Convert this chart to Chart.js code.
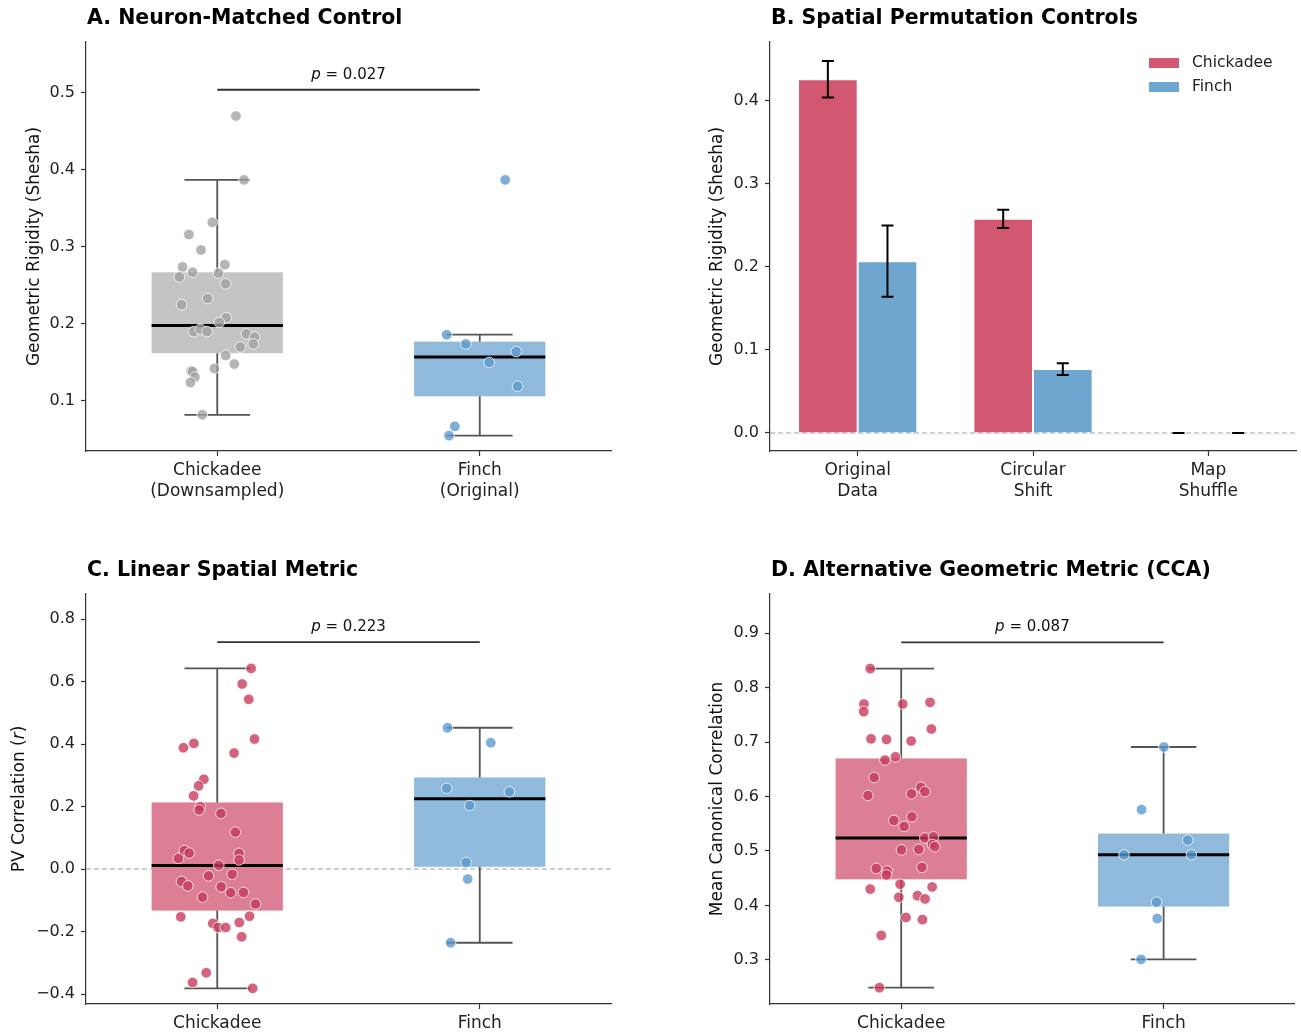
<!DOCTYPE html>
<html><head><meta charset="utf-8">
<script src="https://cdn.jsdelivr.net/npm/chart.js@4.4.1/dist/chart.umd.min.js"></script>
<style>
html,body{margin:0;padding:0;background:#fff;}
#wrap{position:relative;width:1301px;height:1036px;overflow:hidden;}
canvas{position:absolute;}
</style></head><body>
<div id="wrap">
<canvas id="cA" width="650" height="520" style="left:0px;top:0px"></canvas>
<canvas id="cB" width="651" height="520" style="left:650px;top:0px"></canvas>
<canvas id="cC" width="650" height="496" style="left:0px;top:540px"></canvas>
<canvas id="cD" width="651" height="496" style="left:650px;top:540px"></canvas>
</div>
<script>
// ---------- Panel A: Neuron-Matched Control ----------
const aCategories = [['Chickadee', '(Downsampled)'], ['Finch', '(Original)']];
const aYTicks = [0.1, 0.2, 0.3, 0.4, 0.5];
const aChickVals = [0.470,0.387,0.332,0.316,0.296,0.274,0.277,0.261,0.267,0.266,0.252,0.233,0.225,0.208,0.202,0.190,0.193,0.190,0.187,0.183,0.174,0.170,0.159,0.148,0.142,0.139,0.138,0.131,0.124,0.082];
const aChickJitter = [0.071,0.102,-0.019,-0.108,-0.062,-0.132,0.029,-0.144,-0.094,0.005,0.032,-0.037,-0.136,0.034,0.008,-0.090,-0.064,-0.039,0.111,0.142,0.137,0.088,0.032,0.065,-0.011,-0.099,-0.094,-0.085,-0.102,-0.057];
const aChickBox = [0.082, 0.162, 0.198, 0.267, 0.387]; // whiskerLow, Q1, median, Q3, whiskerHigh
const aFinchVals = [0.387,0.186,0.174,0.164,0.150,0.119,0.067,0.055];
const aFinchJitter = [0.097,-0.126,-0.053,0.139,0.036,0.144,-0.095,-0.117];
const aFinchBox = [0.055, 0.106, 0.157, 0.177, 0.186];
const aPText = '0.027';
const aPLevel = 0.504;

// ---------- Panel B: Spatial Permutation Controls ----------
const bCategories = [['Original', 'Data'], ['Circular', 'Shift'], ['Map', 'Shuffle']];
const bYTicks = [0.0, 0.1, 0.2, 0.3, 0.4];
const bChickadee = [0.426, 0.258, 0.0];
const bChickadeeErr = [0.022, 0.011, 0.0];
const bFinch = [0.207, 0.077, 0.0];
const bFinchErr = [0.043, 0.007, 0.0];

// ---------- Panel C: Linear Spatial Metric ----------
const cCategories = ['Chickadee', 'Finch'];
const cYTicks = [-0.4, -0.2, 0.0, 0.2, 0.4, 0.6, 0.8];
const cChickVals = [0.642,0.592,0.543,0.388,0.402,0.416,0.371,0.287,0.266,0.234,0.199,0.189,0.178,0.118,0.059,0.051,0.034,0.050,0.029,0.012,-0.022,-0.017,-0.040,-0.054,-0.057,-0.076,-0.075,-0.090,-0.112,-0.153,-0.151,-0.174,-0.187,-0.187,-0.171,-0.217,-0.332,-0.363,-0.382];
const cChickJitter = [0.129,0.095,0.120,-0.129,-0.089,0.142,0.064,-0.051,-0.071,-0.090,-0.065,-0.069,0.014,0.069,-0.125,-0.107,-0.148,0.083,0.083,0.006,-0.033,0.057,-0.136,-0.112,0.015,0.051,0.100,-0.056,0.146,-0.139,0.123,-0.017,0.003,0.032,0.084,0.093,-0.042,-0.094,0.135];
const cChickBox = [-0.382, -0.133, 0.011, 0.213, 0.642];
const cFinchVals = [0.452,0.404,0.258,0.247,0.203,0.021,-0.032,-0.236];
const cFinchJitter = [-0.123,0.042,-0.126,0.113,-0.038,-0.052,-0.046,-0.111];
const cFinchBox = [-0.236, 0.007, 0.225, 0.293, 0.452];
const cPText = '0.223';
const cPLevel = 0.726;

// ---------- Panel D: Alternative Geometric Metric (CCA) ----------
const dCategories = ['Chickadee', 'Finch'];
const dYTicks = [0.3, 0.4, 0.5, 0.6, 0.7, 0.8, 0.9];
const dChickVals = [0.835,0.770,0.756,0.770,0.773,0.724,0.706,0.705,0.702,0.667,0.673,0.635,0.602,0.617,0.609,0.605,0.563,0.556,0.545,0.524,0.526,0.512,0.508,0.502,0.503,0.468,0.463,0.456,0.470,0.430,0.439,0.434,0.415,0.418,0.412,0.378,0.374,0.345,0.249];
const dChickJitter = [-0.118,-0.142,-0.143,0.006,0.110,0.115,-0.115,-0.056,0.038,-0.062,-0.022,-0.103,-0.127,0.075,0.090,0.039,0.041,-0.028,0.011,0.090,0.123,0.119,0.128,0.001,0.067,-0.095,-0.053,-0.056,0.079,-0.118,-0.004,0.118,-0.009,0.062,0.091,0.018,0.081,-0.076,-0.083];
const dChickBox = [0.249, 0.448, 0.524, 0.670, 0.835];
const dFinchVals = [0.691,0.576,0.520,0.493,0.493,0.406,0.376,0.301];
const dFinchJitter = [0.001,-0.084,0.092,-0.151,0.106,-0.027,-0.024,-0.086];
const dFinchBox = [0.301, 0.398, 0.493, 0.532, 0.691];
const dPText = '0.087';
const dPLevel = 0.883;

// ---------- styling ----------
const FONT = "'DejaVu Sans', 'Liberation Sans', sans-serif";
Chart.defaults.font.family = FONT;
Chart.defaults.color = '#222';
const RED_BAR = '#d25770', BLUE_BAR = '#6fa6cf';
const RED_BOX = '#dc7f95', BLUE_BOX = '#8fbadc', GREY_BOX = '#c4c4c4';
const RED_PT = 'rgba(200,55,90,0.78)', BLUE_PT = 'rgba(90,152,205,0.78)', GREY_PT = 'rgba(160,160,160,0.78)';
const AXIS = '#333';
const TITLE_SIZE = 20.5, YTICK_SIZE = 16, XTICK_SIZE = 17, YLAB_SIZE = 17;

function fmtTick(v) { return (v < 0 ? '\u2212' : '') + Math.abs(v).toFixed(1); }

function drawSegs(ctx, segs, cx, cy, size, rotate) {
  ctx.save();
  ctx.translate(cx, cy);
  if (rotate) ctx.rotate(-Math.PI / 2);
  let total = 0;
  const ws = segs.map(s => { ctx.font = (s.i ? 'italic ' : '') + size + 'px ' + FONT; const w = ctx.measureText(s.t).width; total += w; return w; });
  let x = -total / 2;
  ctx.textAlign = 'left';
  ctx.textBaseline = rotate ? 'middle' : 'alphabetic';
  ctx.fillStyle = '#111';
  segs.forEach((s, k) => { ctx.font = (s.i ? 'italic ' : '') + size + 'px ' + FONT; ctx.fillText(s.t, x, 0); x += ws[k]; });
  ctx.restore();
}

function drawTitle(chart, text) {
  const ctx = chart.ctx, a = chart.chartArea;
  ctx.save();
  ctx.font = 'bold ' + TITLE_SIZE + 'px ' + FONT;
  ctx.fillStyle = '#000';
  ctx.textAlign = 'left';
  ctx.textBaseline = 'alphabetic';
  ctx.fillText(text, a.left + 1, a.top - 18);
  ctx.restore();
}

function yScaleOpts(min, max, ticksArr, width) {
  return {
    type: 'linear', min: min, max: max,
    afterBuildTicks: s => { s.ticks = ticksArr.map(v => ({ value: v })); },
    afterFit: s => { s.width = width; },
    ticks: { autoSkip: false, padding: 6, font: { size: YTICK_SIZE }, color: '#222', callback: v => fmtTick(v) },
    grid: { drawOnChartArea: false, drawTicks: true, tickLength: 5, tickColor: AXIS, tickWidth: 1.2 },
    border: { color: AXIS, width: 1.2 }
  };
}

function boxPanel(id, P) {
  const deco = {
    id: 'deco_' + id,
    beforeDatasetsDraw(chart) {
      const ctx = chart.ctx, a = chart.chartArea, xs = chart.scales.x, ys = chart.scales.y;
      ctx.save();
      if (P.zero) {
        const y0 = ys.getPixelForValue(0);
        ctx.strokeStyle = '#a0a0a0'; ctx.lineWidth = 1.2; ctx.setLineDash([5, 3]);
        ctx.beginPath(); ctx.moveTo(a.left, y0); ctx.lineTo(a.right, y0); ctx.stroke();
        ctx.setLineDash([]);
      }
      P.groups.forEach((g, gi) => {
        const [wl, q1, md, q3, wh] = g.box;
        const Y = v => ys.getPixelForValue(v);
        const xc = xs.getPixelForValue(gi), xl = xs.getPixelForValue(gi - 0.25), xr = xs.getPixelForValue(gi + 0.25);
        const cl = xs.getPixelForValue(gi - 0.125), cr = xs.getPixelForValue(gi + 0.125);
        ctx.fillStyle = g.boxColor;
        ctx.fillRect(xl, Y(q3), xr - xl, Y(q1) - Y(q3));
        ctx.strokeStyle = '#555'; ctx.lineWidth = 1.8;
        ctx.beginPath();
        ctx.moveTo(xc, Y(q3)); ctx.lineTo(xc, Y(wh));
        ctx.moveTo(cl, Y(wh)); ctx.lineTo(cr, Y(wh));
        ctx.moveTo(xc, Y(q1)); ctx.lineTo(xc, Y(wl));
        ctx.moveTo(cl, Y(wl)); ctx.lineTo(cr, Y(wl));
        ctx.stroke();
        ctx.strokeStyle = '#000'; ctx.lineWidth = 3;
        ctx.beginPath(); ctx.moveTo(xl, Y(md)); ctx.lineTo(xr, Y(md)); ctx.stroke();
      });
      ctx.restore();
    },
    afterDatasetsDraw(chart) {
      const ctx = chart.ctx, xs = chart.scales.x, ys = chart.scales.y;
      const x0 = xs.getPixelForValue(0), x1 = xs.getPixelForValue(1), yl = ys.getPixelForValue(P.pLevel);
      ctx.save();
      ctx.strokeStyle = '#333'; ctx.lineWidth = 1.8;
      ctx.beginPath(); ctx.moveTo(x0, yl); ctx.lineTo(x1, yl); ctx.stroke();
      ctx.restore();
      drawSegs(ctx, [{ t: 'p', i: true }, { t: ' = ' + P.pText, i: false }], (x0 + x1) / 2, yl - 11, 15, false);
    },
    afterDraw(chart) {
      const a = chart.chartArea;
      drawTitle(chart, P.title);
      drawSegs(chart.ctx, P.yLabel, P.yLabX, (a.top + a.bottom) / 2, YLAB_SIZE, true);
    }
  };
  return new Chart(document.getElementById(id), {
    type: 'scatter',
    data: {
      datasets: P.groups.map((g, gi) => ({
        label: g.name,
        data: g.vals.map((v, k) => ({ x: gi + g.jit[k], y: v })),
        pointRadius: 5.3, pointHoverRadius: 5.3,
        pointBackgroundColor: g.ptColor,
        pointBorderColor: 'rgba(255,255,255,0.85)', pointBorderWidth: 0.9
      }))
    },
    options: {
      responsive: false, animation: false, events: [],
      layout: { padding: P.pad },
      plugins: { legend: { display: false }, tooltip: { enabled: false }, title: { display: false } },
      scales: {
        x: {
          type: 'linear', min: -0.5, max: 1.5,
          afterBuildTicks: s => { s.ticks = P.cats.map((_, i) => ({ value: i })); },
          afterFit: s => { s.height = P.xH; },
          ticks: { autoSkip: false, maxRotation: 0, padding: 5, font: { size: XTICK_SIZE, lineHeight: 1.18 }, color: '#222',
                   callback: v => P.cats[Math.round(v)] },
          grid: { drawOnChartArea: false, drawTicks: true, tickLength: 5, tickColor: AXIS, tickWidth: 1.2 },
          border: { color: AXIS, width: 1.2 }
        },
        y: yScaleOpts(P.yMin, P.yMax, P.yTicks, P.yW)
      }
    },
    plugins: [deco]
  });
}

// Panel A
boxPanel('cA', {
  title: 'A. Neuron-Matched Control',
  yLabel: [{ t: 'Geometric Rigidity (Shesha)', i: false }], yLabX: 35,
  cats: aCategories, yTicks: aYTicks, yMin: 0.035, yMax: 0.566, yW: 86, xH: 60,
  pad: { left: 0, right: 39, top: 42, bottom: 9 },
  pText: aPText, pLevel: aPLevel, zero: false,
  groups: [
    { name: 'Chickadee', vals: aChickVals, jit: aChickJitter, box: aChickBox, boxColor: GREY_BOX, ptColor: GREY_PT },
    { name: 'Finch', vals: aFinchVals, jit: aFinchJitter, box: aFinchBox, boxColor: BLUE_BOX, ptColor: BLUE_PT }
  ]
});

// Panel C
boxPanel('cC', {
  title: 'C. Linear Spatial Metric',
  yLabel: [{ t: 'PV Correlation (', i: false }, { t: 'r', i: true }, { t: ')', i: false }], yLabX: 20,
  cats: cCategories, yTicks: cYTicks, yMin: -0.432, yMax: 0.88, yW: 86, xH: 30,
  pad: { left: 0, right: 39, top: 54, bottom: 2 },
  pText: cPText, pLevel: cPLevel, zero: true,
  groups: [
    { name: 'Chickadee', vals: cChickVals, jit: cChickJitter, box: cChickBox, boxColor: RED_BOX, ptColor: RED_PT },
    { name: 'Finch', vals: cFinchVals, jit: cFinchJitter, box: cFinchBox, boxColor: BLUE_BOX, ptColor: BLUE_PT }
  ]
});

// Panel D
boxPanel('cD', {
  title: 'D. Alternative Geometric Metric (CCA)',
  yLabel: [{ t: 'Mean Canonical Correlation', i: false }], yLabX: 68,
  cats: dCategories, yTicks: dYTicks, yMin: 0.219, yMax: 0.972, yW: 120, xH: 30,
  pad: { left: 0, right: 5, top: 54, bottom: 2 },
  pText: dPText, pLevel: dPLevel, zero: false,
  groups: [
    { name: 'Chickadee', vals: dChickVals, jit: dChickJitter, box: dChickBox, boxColor: RED_BOX, ptColor: RED_PT },
    { name: 'Finch', vals: dFinchVals, jit: dFinchJitter, box: dFinchBox, boxColor: BLUE_BOX, ptColor: BLUE_PT }
  ]
});

// Panel B
const bErrs = [bChickadeeErr, bFinchErr];
const bDeco = {
  id: 'deco_B',
  beforeDatasetsDraw(chart) {
    const ctx = chart.ctx, a = chart.chartArea, ys = chart.scales.y;
    const y0 = ys.getPixelForValue(0);
    ctx.save();
    ctx.strokeStyle = '#a0a0a0'; ctx.lineWidth = 1.2; ctx.setLineDash([5, 3]);
    ctx.beginPath(); ctx.moveTo(a.left, y0); ctx.lineTo(a.right, y0); ctx.stroke();
    ctx.restore();
  },
  afterDatasetsDraw(chart) {
    const ctx = chart.ctx, ys = chart.scales.y;
    ctx.save();
    ctx.strokeStyle = '#000'; ctx.lineWidth = 2;
    bErrs.forEach((errs, di) => {
      const meta = chart.getDatasetMeta(di);
      meta.data.forEach((bar, j) => {
        const v = chart.data.datasets[di].data[j];
        const yt = ys.getPixelForValue(v + errs[j]), yb = ys.getPixelForValue(v - errs[j]);
        ctx.beginPath();
        ctx.moveTo(bar.x, yt); ctx.lineTo(bar.x, yb);
        ctx.moveTo(bar.x - 6, yt); ctx.lineTo(bar.x + 6, yt);
        ctx.moveTo(bar.x - 6, yb); ctx.lineTo(bar.x + 6, yb);
        ctx.stroke();
      });
    });
    ctx.restore();
  },
  afterDraw(chart) {
    const ctx = chart.ctx, a = chart.chartArea;
    drawTitle(chart, 'B. Spatial Permutation Controls');
    drawSegs(ctx, [{ t: 'Geometric Rigidity (Shesha)', i: false }], 68, (a.top + a.bottom) / 2, YLAB_SIZE, true);
    // legend
    ctx.save();
    chart.data.datasets.forEach((ds, i) => {
      const cy = a.top + 21 + i * 24;
      ctx.fillStyle = ds.backgroundColor;
      ctx.fillRect(a.right - 147, cy - 5, 30, 10);
      ctx.fillStyle = '#222';
      ctx.font = '15.5px ' + FONT;
      ctx.textAlign = 'left'; ctx.textBaseline = 'middle';
      ctx.fillText(ds.label, a.right - 104, cy);
    });
    ctx.restore();
  }
};
new Chart(document.getElementById('cB'), {
  type: 'bar',
  data: {
    labels: bCategories,
    datasets: [
      { label: 'Chickadee', data: bChickadee, backgroundColor: RED_BAR, borderColor: '#ffffff', borderWidth: 1 },
      { label: 'Finch', data: bFinch, backgroundColor: BLUE_BAR, borderColor: '#ffffff', borderWidth: 1 }
    ]
  },
  options: {
    responsive: false, animation: false, events: [],
    layout: { padding: { left: 0, right: 5, top: 42, bottom: 9 } },
    datasets: { bar: { categoryPercentage: 0.68, barPercentage: 1.0 } },
    plugins: { legend: { display: false }, tooltip: { enabled: false }, title: { display: false } },
    scales: {
      x: {
        type: 'category',
        afterFit: s => { s.height = 60; },
        ticks: { autoSkip: false, maxRotation: 0, padding: 5, font: { size: XTICK_SIZE, lineHeight: 1.18 }, color: '#222' },
        grid: { drawOnChartArea: false, drawTicks: true, tickLength: 5, tickColor: AXIS, tickWidth: 1.2, offset: false },
        border: { color: AXIS, width: 1.2 }
      },
      y: yScaleOpts(-0.0217, 0.471, bYTicks, 120)
    }
  },
  plugins: [bDeco]
});
</script>
</body></html>
